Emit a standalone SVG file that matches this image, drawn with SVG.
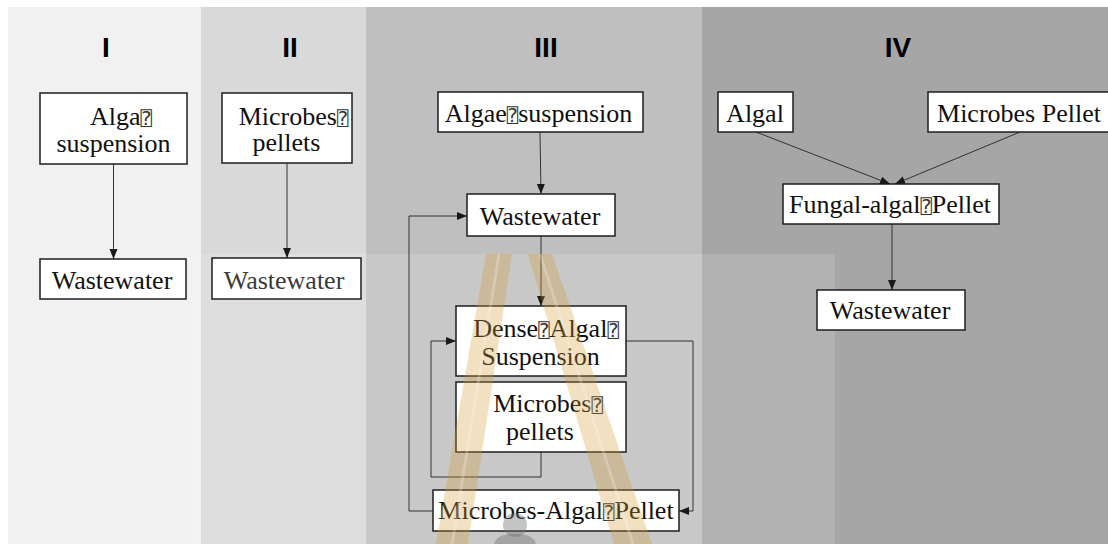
<svg xmlns="http://www.w3.org/2000/svg" width="1108" height="544" viewBox="0 0 1108 544">
  <style>
    .hdr { font-family: "Liberation Sans Narrow", "Liberation Sans", Arial, sans-serif; font-weight: bold; font-size: 28px; fill: #000; text-anchor: middle; }
    .box { fill: #fff; stroke: #1e1e1e; stroke-width: 1.5; }
    .lbl { font-family: "Liberation Serif", "Times New Roman", serif; font-size: 26px; fill: #111; text-anchor: middle; }
    .q { font-family: "DejaVu Sans Mono", "DejaVu Sans", monospace; font-size: 19px; fill: #333; }
    .wire { fill: none; stroke: #333; stroke-width: 1; }
  </style>
  <defs>
    <marker id="arrow" markerUnits="userSpaceOnUse" markerWidth="10" markerHeight="10" viewBox="0 0 10 10" refX="10" refY="5" orient="auto">
      <path d="M0,1 L10,5 L0,9 Z" fill="#1a1a1a"/>
    </marker>
  </defs>

  <!-- page and column bands -->
  <rect x="0" y="0" width="1108" height="544" fill="#fff"/>
  <g id="bands">
    <rect x="8" y="7" width="193" height="537" fill="#f1f1f1"/>
    <rect x="201" y="7" width="165" height="537" fill="#d9d9d9"/>
    <rect x="366" y="7" width="336" height="537" fill="#bfbfbf"/>
    <rect x="702" y="7" width="406" height="537" fill="#a6a6a6"/>
    <rect x="193" y="254" width="642" height="290" fill="#fff" fill-opacity="0.14"/>
  </g>

  <!-- column headings -->
  <g id="headings">
    <text class="hdr" x="106" y="57">I</text>
    <text class="hdr" x="290" y="57">II</text>
    <text class="hdr" x="546" y="57">III</text>
    <text class="hdr" x="898" y="57">IV</text>
  </g>

  <!-- connectors -->
  <g id="connectors">
    <path class="wire" d="M113.5,164 L113.5,259" marker-end="url(#arrow)"/>
    <path class="wire" d="M287,163 L287,258" marker-end="url(#arrow)"/>
    <path class="wire" d="M540,132 L541,194" marker-end="url(#arrow)"/>
    <path class="wire" d="M541,236 L541,306" marker-end="url(#arrow)"/>
    <path class="wire" d="M433,511 L409,511 L409,216 L467,216" marker-end="url(#arrow)"/>
    <path class="wire" d="M541,452 L541,477 L431,477 L431,341 L456,341" marker-end="url(#arrow)"/>
    <path class="wire" d="M626,341 L693,341 L693,511 L679,511" marker-end="url(#arrow)"/>
    <path class="wire" d="M756,132 L890,184" marker-end="url(#arrow)"/>
    <path class="wire" d="M1020,132 L895,184" marker-end="url(#arrow)"/>
    <path class="wire" d="M892,224 L892,290" marker-end="url(#arrow)"/>
  </g>

  <!-- column I -->
  <g id="i-algae-suspension">
    <rect class="box" x="40" y="93" width="147" height="71"/>
    <text class="lbl" x="121" y="125">Alga<tspan class="q">⍰</tspan></text>
    <text class="lbl" x="113.5" y="152">suspension</text>
  </g>
  <g id="i-wastewater">
    <rect class="box" x="40" y="259" width="146" height="40"/>
    <text class="lbl" x="112" y="289">Wastewater</text>
  </g>

  <!-- column II -->
  <g id="ii-microbes-pellets">
    <rect class="box" x="222" y="93" width="130" height="70"/>
    <text class="lbl" x="293.5" y="124.5">Microbes<tspan class="q">⍰</tspan></text>
    <text class="lbl" x="286.5" y="151">pellets</text>
  </g>
  <g id="ii-wastewater">
    <rect class="box" x="212" y="258" width="149" height="41"/>
    <text class="lbl" x="284" y="289" style="fill:#3a3a3a">Wastewater</text>
  </g>

  <!-- column III -->
  <g id="iii-algae-suspension">
    <rect class="box" x="438" y="92" width="205" height="40"/>
    <text class="lbl" x="538.5" y="122">Algae<tspan class="q">⍰</tspan><tspan>suspension</tspan></text>
  </g>
  <g id="iii-wastewater">
    <rect class="box" x="467" y="194" width="148" height="42"/>
    <text class="lbl" x="540" y="225">Wastewater</text>
  </g>
  <g id="iii-dense-algal-suspension">
    <rect class="box" x="456" y="306" width="170" height="70"/>
    <text class="lbl" x="546" y="337">Dense<tspan class="q">⍰</tspan><tspan>Algal</tspan><tspan class="q">⍰</tspan></text>
    <text class="lbl" x="540.5" y="365">Suspension</text>
  </g>
  <g id="iii-microbes-pellets">
    <rect class="box" x="456" y="382" width="170" height="70"/>
    <text class="lbl" x="548" y="412">Microbes<tspan class="q">⍰</tspan></text>
    <text class="lbl" x="540" y="440">pellets</text>
  </g>
  <g id="iii-microbes-algal-pellet">
    <rect class="box" x="433" y="490" width="246" height="41"/>
    <text class="lbl" x="556" y="519">Microbes-Algal<tspan class="q">⍰</tspan><tspan>Pellet</tspan></text>
  </g>

  <!-- column IV -->
  <g id="iv-algal">
    <rect class="box" x="718" y="92" width="75" height="40"/>
    <text class="lbl" x="755" y="122">Algal</text>
  </g>
  <g id="iv-microbes-pellet">
    <rect class="box" x="928" y="92" width="184" height="40"/>
    <text class="lbl" x="1019" y="122">Microbes Pellet</text>
  </g>
  <g id="iv-fungal-algal-pellet">
    <rect class="box" x="783" y="184" width="216" height="40"/>
    <text class="lbl" x="890" y="213">Fungal-algal<tspan class="q">⍰</tspan><tspan>Pellet</tspan></text>
  </g>
  <g id="iv-wastewater">
    <rect class="box" x="817" y="290" width="148" height="40"/>
    <text class="lbl" x="890" y="319">Wastewater</text>
  </g>

  <!-- faint emblem printed over the lower middle -->
  <g id="emblem">
    <g fill="#d49a32" fill-opacity="0.3">
      <polygon points="486,254 512,254 468,544 436,544"/>
      <polygon points="528,254 552,254 652,544 614,544"/>
    </g>
    <g stroke="#fff" stroke-opacity="0.22" stroke-width="3">
      <line x1="499" y1="254" x2="452" y2="544"/>
      <line x1="540" y1="254" x2="633" y2="544"/>
    </g>
    <g fill="#6f6f6f" fill-opacity="0.4">
      <circle cx="515" cy="525" r="12"/>
      <path d="M494,544 C496,536 504,534 515,534 C526,534 534,536 536,544 Z"/>
    </g>
  </g>
</svg>
